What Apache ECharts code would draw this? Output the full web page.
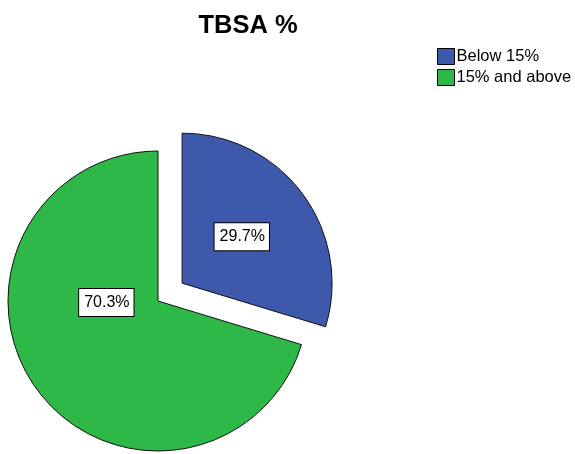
<!DOCTYPE html>
<html>
<head>
<meta charset="utf-8">
<script src="https://cdn.jsdelivr.net/npm/echarts@6/dist/echarts.min.js"></script>
<style>html,body{margin:0;padding:0;background:#fff}#c{width:575px;height:454px}</style>
</head>
<body>
<div id="c"></div>
<script>
var categories = ['Below 15%', '15% and above'];
var values = [29.7, 70.3];
var colors = ['#3E58AC', '#2EB848'];
var labelShift = [[-3, 0], [11, -45]];

var chart = echarts.init(document.getElementById('c'), null, {renderer: 'canvas'});
chart.setOption({
  animation: false,
  backgroundColor: '#fff',
  title: {
    text: 'TBSA %',
    left: 243, top: 8, textAlign: 'center',
    textStyle: {fontFamily: 'Liberation Sans', fontWeight: 'bold', fontSize: 25.5, color: '#000'}
  },
  legend: {
    orient: 'vertical',
    left: 432, top: 43,
    itemWidth: 17, itemHeight: 16, itemGap: 4,
    icon: 'rect',
    selectedMode: false,
    itemStyle: {borderColor: '#000', borderWidth: 1},
    textStyle: {fontFamily: 'Liberation Sans', fontSize: 16.5, color: '#000', padding: [0,0,0,-3]},
    data: categories
  },
  series: [{
    type: 'pie',
    center: [158, 301],
    radius: 150,
    startAngle: 90,
    clockwise: true,
    selectedMode: 'single',
    selectedOffset: 30,
    avoidLabelOverlap: false,
    itemStyle: {borderColor: '#111', borderWidth: 1},
    label: {
      show: true,
      position: 'inside',
      formatter: function (p) { return p.value.toFixed(1) + '%'; },
      fontFamily: 'Liberation Sans',
      fontSize: 16,
      color: '#000',
      backgroundColor: '#fff',
      borderColor: '#000',
      borderWidth: 1,
      padding: [6, 4, 5, 5]
    },
    labelLayout: function (p) {
      var s = labelShift[p.dataIndex];
      return {dx: s[0], dy: s[1]};
    },
    emphasis: {disabled: true},
    data: categories.map(function (n, i) {
      return {name: n, value: values[i], selected: i === 0, itemStyle: {color: colors[i]}};
    })
  }]
});
</script>
</body>
</html>
